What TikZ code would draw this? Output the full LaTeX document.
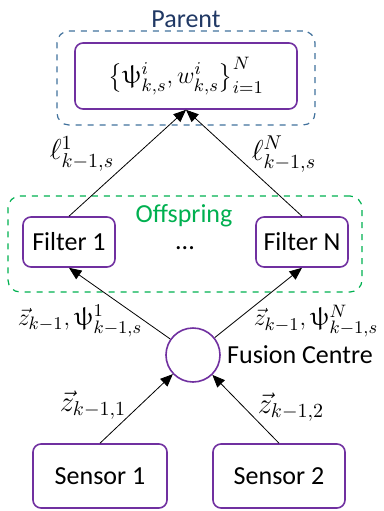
\documentclass[tikz,border=0pt]{standalone}
\usepackage{fontspec}
\setmainfont{Carlito}
\usepackage{amsmath}
\usepackage{upgreek}
\usepackage{tikz}
\usetikzlibrary{positioning, calc, arrows}
\tikzset{>=triangle 45}
\definecolor{boxpurple}{HTML}{7030A0}
\definecolor{parentblue}{HTML}{41719C}
\definecolor{parenttext}{HTML}{203864}
\definecolor{offgreen}{HTML}{00B050}

\begin{document}
\begin{tikzpicture}
    [x=0.5pt, y=-0.5pt, font=\fontsize{13}{15}\selectfont,
     my box/.style={draw=boxpurple, line width=0.8pt, rounded corners=4pt, align=center},
     my group/.style={dashed, line width=0.6pt, rounded corners=6pt, minimum width=#1},
     my label/.style={inner sep=0pt, font=\fontsize{#1}{16}\selectfont},
     my label/.default=14]
    \useasboundingbox (0,0) rectangle (384,511);

    % groups
    \node[my group=129pt, draw=parentblue, minimum height=47pt] (pg) at (186,78) {};
    \node[text=parenttext, above=1pt of pg, inner sep=0pt] (pt) {Parent};
    \node[my group=177pt, draw=offgreen, minimum height=48pt] (og) at (185,244) {};
    \node[text=offgreen, inner sep=0pt] (ot) at (184,216) {Offspring};

    % boxes
    \node[my box, minimum width=111pt, minimum height=33pt] (par) at (186,76)
        {$\bigl\{\uppsi_{k,s}^{i}, w_{k,s}^{i}\bigr\}_{i=1}^{N}$};
    \node[my box, minimum width=46pt, minimum height=25pt] (f1) at (69,242) {Filter 1};
    \node[my box, minimum width=46pt, minimum height=25pt] (fn) at (302,242) {Filter N};
    \node[inner sep=0pt] (dots) at (185,248) {...};
    \node[draw=boxpurple, line width=0.8pt, circle, minimum size=27pt, inner sep=0pt] (fc) at (193,355) {};
    \node[right=2pt of fc, inner sep=1pt] (fct) {Fusion Centre};
    \node[my box, minimum width=67pt, minimum height=32pt] (s1) at (100,476) {Sensor 1};
    \node[my box, minimum width=66pt, minimum height=32pt] (s2) at (279,476) {Sensor 2};

    % links
    \draw[->] (f1.north) -- (par.south);
    \draw[->] (fn.north) -- (par.south);
    \draw[->] (fc) -- (f1.south);
    \draw[->] (fc) -- (fn.south);
    \draw[->] (s1.north) -- (fc);
    \draw[->] (s2.north) -- (fc);

    % labels
    \node[my label] (l1) at (82,154) {$\ell_{k-1,s}^{1}$};
    \node[my label] (ln) at (284,154) {$\ell_{k-1,s}^{N}$};
    \node[my label=13] (z1) at (80,321) {$\vec{z}_{k-1}, \uppsi_{k-1,s}^{1}$};
    \node[my label=13] (zn) at (316,321) {$\vec{z}_{k-1}, \uppsi_{k-1,s}^{N}$};
    \node[my label] (zs1) at (93,405) {$\vec{z}_{k-1,1}$};
    \node[my label] (zs2) at (291,407) {$\vec{z}_{k-1,2}$};
\end{tikzpicture}
\end{document}
